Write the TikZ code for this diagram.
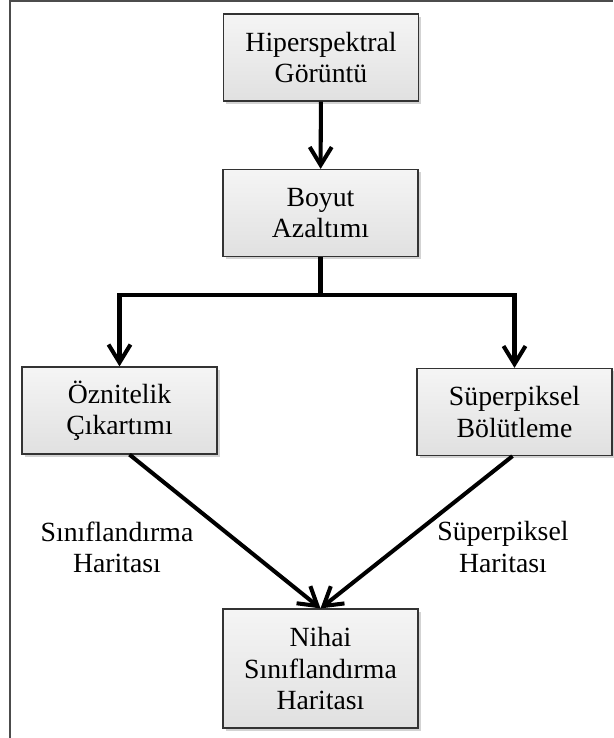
\documentclass[tikz,border=0pt]{standalone}
\usepackage{fontspec}
\setmainfont{Liberation Serif}
\usepackage{tikz}
\usetikzlibrary{positioning}
\usetikzlibrary{arrows.meta,shadows}
\tikzset{>={Straight Barb[length=0.36cm,width=0.44cm]}}
\tikzset{
  procbox/.style={draw=black!80, line width=0.7pt, top color=gray!8, bottom color=gray!24,
    drop shadow={shadow xshift=1.6pt, shadow yshift=-1.6pt, opacity=0.35},
    minimum width=3.9cm, minimum height=1.74cm, align=center, inner sep=2pt,
    font=\fontsize{15.8}{17.8}\selectfont},
  flow/.style={line width=2.3pt},
  lbl/.style={align=center, font=\fontsize{15.8}{17.8}\selectfont}
}

\begin{document}
\begin{tikzpicture}[x=0.02cm, y=-0.02cm]
        \useasboundingbox (0,0) rectangle (613,738);
        % 1. Frame on the left and top
        \draw[gray!60!black, line width=1pt] (10,738) -- (10,1) -- (613,1);

        % 2. Boxes
        \node[procbox] (hsi) at (321,57.5) {Hiperspektral\\Görüntü};
        \node[procbox] (dimred) at (320.5,213) {Boyut\\Azaltımı};
        \node[procbox] (feat) at (119.5,410.5) {Öznitelik\\Çıkartımı};
        \node[procbox] (seg) at (514.5,412) {Süperpiksel\\Bölütleme};
        \node[procbox, minimum height=2.38cm] (final) at (320.5,668.5) {Nihai\\Sınıflandırma\\Haritası};

        % 3. Connectors
        \coordinate (fork) at (dimred.south |- 0,295);
        \draw[flow, ->] (hsi) -- (dimred);
        \draw[flow] (dimred) -- (fork);
        \draw[flow, ->] (fork) -| (feat.north);
        \draw[flow, ->] (fork) -| (seg.north);
        \draw[flow, ->] ([xshift=0.2cm]feat.south) -- (final.north);
        \draw[flow, ->] ([xshift=-0.04cm]seg.south) -- (final.north);

        % 4. Edge labels
        \node[lbl] (clsmap) at (117,547) {Sınıflandırma\\Haritası};
        \node[lbl] (spmap) at (503,547) {Süperpiksel\\Haritası};
    \end{tikzpicture}
\end{document}
